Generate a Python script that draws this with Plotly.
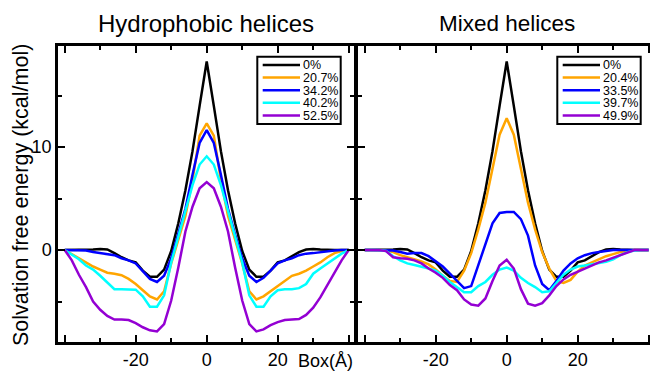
import plotly.graph_objects as go

# ---------------- data ----------------
box_x = [-40, -38, -36, -34, -32, -30, -28, -26, -24, -22, -20, -18, -16, -14, -12, -10, -8, -6, -4, -2,
         0, 2, 4, 6, 8, 10, 12, 14, 16, 18, 20, 22, 24, 26, 28, 30, 32, 34, 36, 38, 40]

hydro_labels = ["0%", "20.7%", "34.2%", "40.2%", "52.5%"]
mixed_labels = ["0%", "20.4%", "33.5%", "39.7%", "49.9%"]
series_colors = ["#000000", "#FFA500", "#0000FF", "#00FFFF", "#9400D3"]

pure_0 = [0, 0, 0, 0, 0.05, 0.1, 0.05, -0.3, -0.7, -1.0, -1.2, -2.0, -2.6, -2.6, -1.9, -0.1, 2.6, 5.8, 9.6, 14.0,
          18.3, 14.0, 9.6, 5.8, 2.6, -0.1, -1.9, -2.6, -2.6, -2.0, -1.2, -1.0, -0.6, -0.2, 0.05, 0.1, 0.05, 0, 0, 0, 0]

hydro_207 = [0, -0.4, -0.8, -1.2, -1.6, -1.9, -2.2, -2.3, -2.45, -2.8, -3.3, -3.9, -4.5, -4.8, -4.0, -1.3, 1.0, 3.3, 6.8, 11.1,
             12.3, 11.1, 6.8, 3.3, 1.0, -1.3, -4.0, -4.8, -4.5, -4.0, -3.5, -3.0, -2.5, -2.3, -2.0, -1.6, -1.2, -0.7, -0.3, -0.1, 0]
hydro_342 = [0, 0, 0, -0.05, -0.2, -0.3, -0.35, -0.5, -0.8, -1.0, -1.3, -2.0, -2.8, -3.1, -2.5, -0.8, 1.5, 4.0, 7.3, 10.4,
             11.65, 10.4, 7.3, 4.0, 1.5, -0.8, -2.5, -3.1, -2.7, -2.0, -1.3, -1.0, -0.8, -0.5, -0.35, -0.3, -0.2, -0.1, -0.05, 0, 0]
hydro_402 = [0, -0.45, -0.9, -1.5, -1.9, -2.5, -3.2, -3.8, -3.8, -3.8, -3.85, -4.5, -5.5, -5.5, -4.4, -1.2, 1.4, 3.8, 6.3, 8.3,
             9.1, 8.3, 6.3, 3.8, 1.4, -1.2, -4.4, -5.5, -5.5, -4.5, -3.9, -3.8, -3.8, -3.7, -3.3, -2.3, -1.8, -1.3, -0.8, -0.35, 0]
hydro_525 = [0, -1.0, -2.4, -3.6, -5.0, -5.8, -6.4, -6.75, -6.75, -6.8, -7.1, -7.5, -7.8, -7.9, -7.2, -4.9, -1.7, 1.8, 4.2, 6.0,
             6.6, 6.0, 4.2, 1.8, -1.7, -4.9, -7.2, -7.9, -7.7, -7.3, -7.0, -6.8, -6.75, -6.7, -6.3, -5.6, -4.6, -3.4, -2.2, -1.0, 0]

mixed_204 = [0, 0, 0, -0.05, -0.2, -0.5, -0.7, -0.9, -1.1, -1.4, -1.9, -2.5, -3.0, -3.1, -2.0, -0.3, 2.0, 4.6, 7.9, 11.2,
             12.8, 11.2, 7.9, 4.6, 2.0, -0.2, -1.8, -3.0, -3.2, -2.9, -2.1, -1.5, -1.2, -0.9, -0.6, -0.4, -0.2, -0.1, 0, 0, 0]
mixed_335 = [0, 0, 0, 0, -0.05, -0.2, -0.35, -0.3, -0.3, -0.6, -1.1, -1.6, -2.3, -3.0, -3.7, -3.5, -1.5, 0.6, 2.6, 3.6,
             3.7, 3.7, 3.0, 1.4, -1.5, -3.3, -3.9, -3.0, -2.0, -1.3, -0.8, -0.5, -0.3, -0.2, -0.1, 0, 0, 0, 0, 0, 0]
mixed_397 = [0, 0, 0, -0.1, -0.6, -1.0, -1.3, -1.45, -1.6, -1.8, -2.0, -2.5, -3.1, -3.6, -4.1, -4.1, -3.5, -3.1, -2.4, -1.9,
             -1.7, -2.0, -2.7, -3.2, -3.6, -4.1, -4.0, -3.2, -2.4, -1.9, -1.6, -1.5, -1.4, -1.3, -1.15, -0.9, -0.5, -0.2, -0.05, 0, 0]
mixed_499 = [0, 0, 0, -0.1, -0.7, -0.8, -0.85, -1.0, -1.3, -1.8, -2.2, -2.7, -3.4, -3.9, -4.8, -5.3, -5.4, -4.7, -3.0, -1.5,
             -0.95, -1.8, -3.8, -5.2, -5.4, -5.15, -4.4, -3.5, -2.85, -2.4, -2.1, -1.8, -1.5, -1.2, -1.0, -0.75, -0.5, -0.2, 0, 0, 0]

hydro_series = [pure_0, hydro_207, hydro_342, hydro_402, hydro_525]
mixed_series = [pure_0, mixed_204, mixed_335, mixed_397, mixed_499]

panel_titles = ["Hydrophobic helices", "Mixed helices"]
y_title = "Solvation free energy (kcal/mol)"
x_title = "Box(Å)"
x_tickvals = [-40, -20, 0, 20, 40]
x_ticktext = ["", "-20", "0", "20", ""]
x_minor = [-30, -10, 10, 30]
y_tickvals = [0, 10]
y_minor = [-5, 5, 15]

# ---------------- layout helpers ----------------
W, H = 650, 372
FONT = "Liberation Sans, Arial, sans-serif"


def px(v):
    return v / W


def py(v):
    return 1 - v / H


fig = go.Figure()

for labels, series, xa, ya in [(hydro_labels, hydro_series, "x", "y"),
                               (mixed_labels, mixed_series, "x2", "y2")]:
    for name, vals, col in zip(labels, series, series_colors):
        fig.add_trace(go.Scatter(x=box_x, y=vals, mode="lines", name=name,
                                 line=dict(color=col, width=2.5),
                                 xaxis=xa, yaxis=ya, showlegend=False))

axis_common = dict(showline=True, linecolor="black", linewidth=2.5, showgrid=False, zeroline=False,
                   ticks="inside", tickcolor="black", tickwidth=2, ticklen=7,
                   tickfont=dict(family=FONT, size=18, color="black"))
minor_common = dict(ticks="inside", ticklen=4, tickwidth=2, tickcolor="black")

fig.update_layout(
    width=W, height=H,
    margin=dict(l=0, r=0, t=0, b=0),
    paper_bgcolor="white", plot_bgcolor="white",
    showlegend=False,
    xaxis=dict(domain=[58 / W, 354 / W], range=[-41.89, 41.49], anchor="y", mirror="ticks",
               tickmode="array", tickvals=x_tickvals, ticktext=x_ticktext,
               minor=dict(tickvals=x_minor, **minor_common), **axis_common),
    yaxis=dict(domain=[py(342), py(46)], range=[-8.93, 19.81], anchor="x", mirror="ticks",
               tickmode="array", tickvals=y_tickvals,
               minor=dict(tickvals=y_minor, **minor_common), **axis_common),
    xaxis2=dict(domain=[358 / W, 1.0], range=[-41.89, 40.37], anchor="y2", mirror="ticks",
                tickmode="array", tickvals=x_tickvals, ticktext=x_ticktext,
                minor=dict(tickvals=x_minor, **minor_common), **axis_common),
    yaxis2=dict(domain=[py(342), py(46)], range=[-8.93, 19.81], anchor="x2", mirror=False,
                tickmode="array", tickvals=y_tickvals, showticklabels=False,
                minor=dict(tickvals=y_minor, **minor_common), **axis_common),
)

annotations = []
shapes = []

# panel titles
for title, cx, fs in zip(panel_titles, [206, 507], [24, 22.5]):
    annotations.append(dict(text=title, x=px(cx), y=py(24), xref="paper", yref="paper",
                            xanchor="center", yanchor="middle", showarrow=False,
                            font=dict(family=FONT, size=fs, color="black")))
# axis titles
annotations.append(dict(text=y_title, x=px(21), y=py(195), xref="paper", yref="paper", textangle=-90,
                        xanchor="center", yanchor="middle", showarrow=False,
                        font=dict(family=FONT, size=21.5, color="black")))
annotations.append(dict(text=x_title, x=px(326), y=py(361), xref="paper", yref="paper",
                        xanchor="center", yanchor="middle", showarrow=False,
                        font=dict(family=FONT, size=18, color="black")))

# legends
for labels, bx in [(hydro_labels, 257.3), (mixed_labels, 557.3)]:
    shapes.append(dict(type="rect", xref="paper", yref="paper",
                       x0=px(bx), x1=px(bx + 83.4), y0=py(124), y1=py(56.7),
                       line=dict(color="black", width=2), fillcolor="white", layer="above"))
    for i, (lab, col) in enumerate(zip(labels, series_colors)):
        ry = 65 + i * 12.6
        shapes.append(dict(type="line", xref="paper", yref="paper",
                           x0=px(bx + 5.4), x1=px(bx + 42.7), y0=py(ry), y1=py(ry),
                           line=dict(color=col, width=2.5), layer="above"))
        annotations.append(dict(text=lab, x=px(bx + 43.2), y=py(ry + 0.5), xref="paper", yref="paper",
                                xanchor="left", yanchor="middle", showarrow=False,
                                font=dict(family=FONT, size=12.5, color="black")))

fig.update_layout(annotations=annotations, shapes=shapes)

fig.write_html("out.html", config={"displayModeBar": False},
               post_script="document.body.style.margin='0';")
